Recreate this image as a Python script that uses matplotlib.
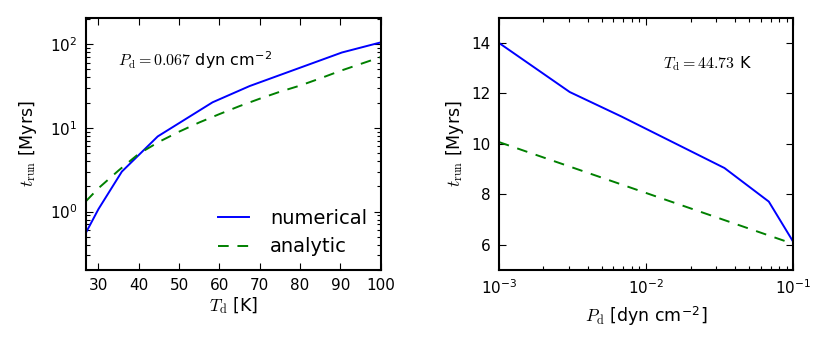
import numpy as np
import matplotlib
matplotlib.use("Agg")
import matplotlib.pyplot as plt

plt.rcParams['mathtext.fontset'] = 'cm'
plt.rcParams['font.size'] = 11

# left panel: run time vs dust temperature (P_d = 0.067)
T_num = [26.9, 30.0, 35.8, 44.7, 58.3, 67.5, 90.4, 100.0]
t_num_T = [0.56, 1.07, 3.0, 7.9, 20.2, 31.6, 79.6, 105.0]
T_ana = [26.9, 30, 35, 40, 45, 50, 55, 60, 65, 70, 75, 80, 85, 90, 95, 100]
t_ana_T = [1.33, 1.9, 3.1, 4.9, 6.8, 9.0, 11.6, 14.6, 18.2, 22.3, 27.0, 32.0, 39.0, 48.0, 58.0, 70.0]

# right panel: run time vs pressure (T_d = 44.73 K)
P_num = [1e-3, 3.03e-3, 6.8e-3, 0.034, 0.068, 0.1]
t_num_P = [14.0, 12.05, 11.08, 9.04, 7.71, 6.1]
P_ana = [1e-3, 1e-2, 0.1]
t_ana_P = [10.07, 8.05, 6.03]

fig = plt.figure(figsize=(8.3, 3.56), dpi=100)
ax1 = fig.add_axes([0.1036, 0.2416, 0.355, 0.709])
ax2 = fig.add_axes([0.601, 0.2416, 0.355, 0.709])

for ax in (ax1, ax2):
    ax.tick_params(which='both', direction='in', top=True, right=True)
    ax.tick_params(which='major', length=5, width=0.8, pad=6)
    ax.tick_params(which='minor', length=3, width=0.8)
    for s in ax.spines.values():
        s.set_linewidth(1.5)

ax1.plot(T_num, t_num_T, color='b', lw=1.4, label='numerical')
ax1.plot(T_ana, t_ana_T, color='g', lw=1.4, ls='--', dashes=(5.5, 4.5), label='analytic')
ax1.set_yscale('log')
ax1.set_xlim(26.9, 100)
ax1.set_ylim(0.2, 208)
ax1.set_xticks([30, 40, 50, 60, 70, 80, 90, 100])
ax1.set_xlabel(r'$T_{\rm d}$ [K]', fontsize=12.5, labelpad=1)
ax1.set_ylabel(r'$t_{\rm run}$ [Myrs]', fontsize=12.5, labelpad=8)
ax1.text(0.11, 0.81, r'$P_{\rm d}=0.067$ dyn cm$^{\mathdefault{-2}}$', transform=ax1.transAxes, fontsize=11.5)
ax1.legend(loc='lower right', frameon=False, fontsize=14, handlelength=1.55, handletextpad=1.1,
           borderaxespad=0.3)

ax2.plot(P_num, t_num_P, color='b', lw=1.4)
ax2.plot(P_ana, t_ana_P, color='g', lw=1.4, ls='--', dashes=(5.5, 4.5))
ax2.set_xscale('log')
ax2.set_xlim(1e-3, 0.1)
ax2.set_ylim(5, 15)
ax2.set_yticks([6, 8, 10, 12, 14])
ax2.set_xlabel(r'$P_{\rm d}$ [dyn cm$^{\mathdefault{-2}}$]', fontsize=12.5, labelpad=5)
ax2.set_ylabel(r'$t_{\rm run}$ [Myrs]', fontsize=12.5)
ax2.text(0.556, 0.80, r'$T_{\rm d}=44.73$ K', transform=ax2.transAxes, fontsize=11.5)

fig.savefig('out.png', dpi=100)
